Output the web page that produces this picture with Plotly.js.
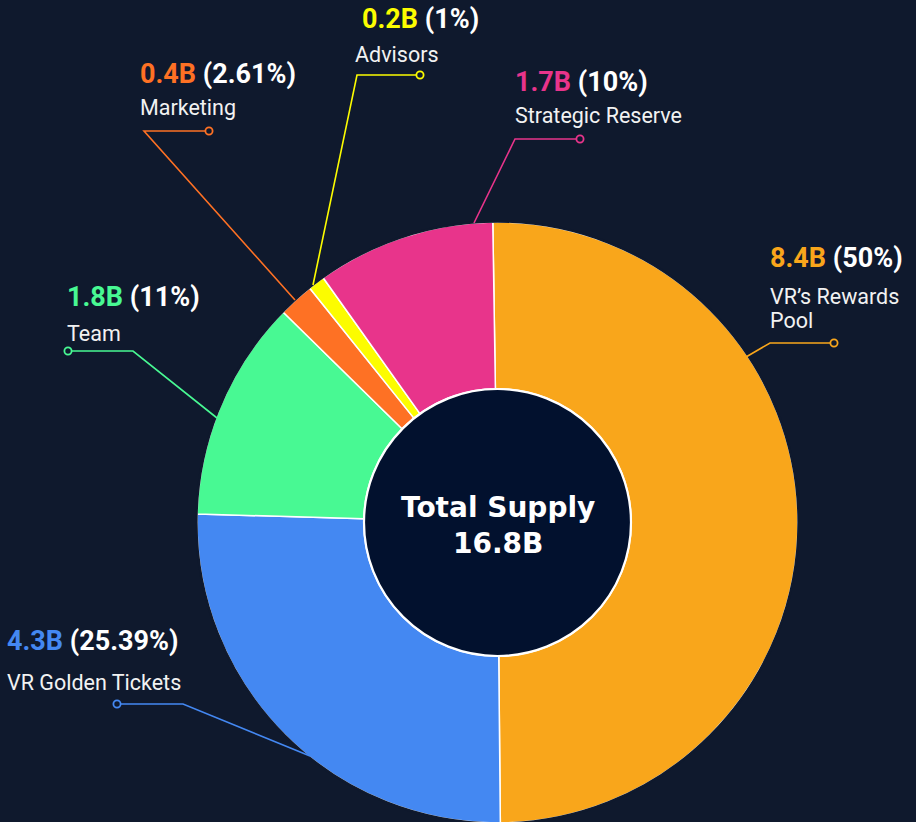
<!DOCTYPE html>
<html>
<head>
<meta charset="utf-8">
<script src="https://cdn.plot.ly/plotly-3.0.1.min.js"></script>
<style>
  html, body { margin: 0; padding: 0; background: #0f192d; overflow: hidden; }
  #chart { width: 916px; height: 830px; }
</style>
</head>
<body>
<div id="chart"></div>
<script>
// ---- data ----
const labels = ["VR’s Rewards Pool", "VR Golden Tickets", "Team", "Marketing", "Advisors", "Strategic Reserve"];
const amounts = ["8.4B", "4.3B", "1.8B", "0.4B", "0.2B", "1.7B"];
const pctLabels = ["50%", "25.39%", "11%", "2.61%", "1%", "10%"];
const sliceShares = [50.1, 25.6, 11.9, 1.9, 0.9, 9.6];   // shares as drawn in the picture
const nameLines = [["VR’s Rewards", "Pool"], ["VR Golden Tickets"], ["Team"], ["Marketing"], ["Advisors"], ["Strategic Reserve"]];
const colors = ["#f9a61b", "#4488f2", "#48f993", "#fe7124", "#fcfc00", "#e8348b"];
const totalLabel = ["Total Supply", "16.8B"];

// ---- layout geometry (pixels) ----
const W = 916, H = 830;
const L = 197, T = 222, PW = 601, PH = 601;
const CX = L + PW / 2, CY = T + PH / 2, R = PW / 2;
const px = X => (X - L) / PW;
const py = Y => 1 - (Y - T) / PH;

// label placement: value line (x,y), name lines (x, y list), leader: circle, elbow, edge
const labelPos = [
  {vx: 768, vy: 258, nx: 768, ny: [296, 320], dot: [834, 343], elbow: [770, 343], edge: [746, 357]},
  {vx: 5,   vy: 641, nx: 5,   ny: [682],      dot: [117, 704], elbow: [183, 704], edge: [310, 756]},
  {vx: 65,  vy: 297, nx: 65,  ny: [333],      dot: [68, 351],  elbow: [133, 351], edge: [217, 418]},
  {vx: 138, vy: 74,  nx: 138, ny: [108],      dot: [209, 131], elbow: [144, 131], edge: [295, 300]},
  {vx: 360, vy: 19,  nx: 353, ny: [54],       dot: [420, 75],  elbow: [357, 75],  edge: [313, 285]},
  {vx: 513, vy: 82,  nx: 513, ny: [116],      dot: [580, 139], elbow: [515, 139], edge: [474, 223]}
];

const trace = {
  type: "pie",
  labels: labels,
  values: sliceShares,
  sort: false,
  direction: "clockwise",
  rotation: -0.9,
  hole: 0.445,
  textinfo: "none",
  hoverinfo: "none",
  marker: { colors: colors, line: { color: "#ffffff", width: 1.5 } },
  showlegend: false
};

const shapes = [];
const annotations = [];

// hide white outline on the outer rim
shapes.push({
  type: "circle", xref: "paper", yref: "paper", layer: "above",
  x0: px(CX - R - 0.6), x1: px(CX + R + 0.6), y0: py(CY + R + 0.6), y1: py(CY - R - 0.6),
  line: { color: "#0f192d", width: 2.5 }, fillcolor: "rgba(0,0,0,0)"
});

// center disc
const IR = 133.5;
shapes.push({
  type: "circle", xref: "paper", yref: "paper", layer: "above",
  x0: px(CX - IR), x1: px(CX + IR), y0: py(CY + IR), y1: py(CY - IR),
  line: { color: "#ffffff", width: 2.2 }, fillcolor: "#02112e"
});

labelPos.forEach((p, i) => {
  const c = colors[i];
  shapes.push({
    type: "path", xref: "paper", yref: "paper", layer: "above",
    path: `M ${px(p.dot[0])} ${py(p.dot[1])} L ${px(p.elbow[0])} ${py(p.elbow[1])} L ${px(p.edge[0])} ${py(p.edge[1])}`,
    line: { color: c, width: 1.6 }
  });
  const dr = 3.6;
  shapes.push({
    type: "circle", xref: "paper", yref: "paper", layer: "above",
    x0: px(p.dot[0] - dr), x1: px(p.dot[0] + dr), y0: py(p.dot[1] + dr), y1: py(p.dot[1] - dr),
    line: { color: c, width: 1.8 }, fillcolor: "#0f192d"
  });
  annotations.push({
    xref: "paper", yref: "paper", x: px(p.vx), y: py(p.vy),
    xanchor: "left", yanchor: "middle", showarrow: false,
    text: `<b><span style="color:${c}">${amounts[i]}</span> (${pctLabels[i]})</b>`,
    font: { family: "Roboto, 'Noto Sans', sans-serif", size: 27, color: "#ffffff" }
  });
  nameLines[i].forEach((t, k) => {
    annotations.push({
      xref: "paper", yref: "paper", x: px(p.nx), y: py(p.ny[k]),
      xanchor: "left", yanchor: "middle", showarrow: false,
      text: t,
      font: { family: "Roboto, 'Noto Sans', sans-serif", size: 21.5, color: "#f2f2f2" }
    });
  });
});

// center title
[507, 543].forEach((y, k) => {
  annotations.push({
    xref: "paper", yref: "paper", x: px(CX), y: py(y),
    xanchor: "center", yanchor: "middle", showarrow: false,
    text: `<b>${totalLabel[k]}</b>`,
    font: { family: "'DejaVu Sans', Verdana, sans-serif", size: 28, color: "#ffffff" }
  });
});

const layout = {
  width: W, height: H,
  margin: { l: L, r: W - L - PW, t: T, b: H - T - PH, pad: 0, autoexpand: false },
  paper_bgcolor: "#0f192d",
  plot_bgcolor: "#0f192d",
  showlegend: false,
  shapes: shapes,
  annotations: annotations
};

Plotly.newPlot("chart", [trace], layout, { displayModeBar: false, staticPlot: true });
</script>
</body>
</html>
